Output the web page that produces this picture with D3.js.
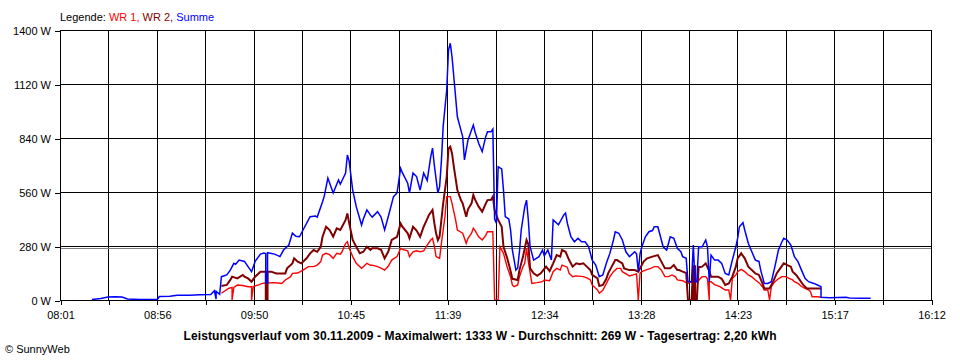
<!DOCTYPE html>
<html><head><meta charset="utf-8">
<script src="https://cdn.jsdelivr.net/npm/d3@7"></script>
<style>
body{margin:0;background:#fff}
svg{display:block;font-family:"Liberation Sans",Arial,sans-serif}
</style>
</head><body><svg id="c" width="960" height="360"></svg>
<script>
// ---------------- data ----------------
const xTickLabels = ["08:01","08:56","09:50","10:45","11:39","12:34","13:28","14:23","15:17","16:12"];
const yTicks = [0, 280, 560, 840, 1120, 1400];
const averageW = 269;
const legendLabel = "Legende: ";
const seriesNames = ["WR 1", "WR 2", "Summe"];
const seriesColors = ["#ff0000", "#800000", "#0000ff"];
const titleText = "Leistungsverlauf vom 30.11.2009 - Maximalwert: 1333 W - Durchschnitt: 269 W - Tagesertrag: 2,20 kWh";
const footerText = "\u00A9 SunnyWeb";

const wr1 = [["09:32",35],["09:36",60],["09:38",65],["09:38",0],["09:39",65],["09:41",78],["09:44",75],["09:47",69],["09:49",69],["09:49",0],["09:50",70],["09:53",78],["09:55",86],["09:58",88],["10:01",90],["10:04",88],["10:06",86],["10:08",104],["10:11",121],["10:12",138],["10:15",140],["10:18",155],["10:21",173],["10:24",173],["10:26",181],["10:28",199],["10:29",233],["10:31",242],["10:33",235],["10:35",216],["10:37",242],["10:39",238],["10:40",250],["10:42",294],["10:43",302],["10:44",270],["10:46",225],["10:48",190],["10:51",164],["10:52",173],["10:54",190],["10:56",180],["10:57",181],["11:00",173],["11:02",165],["11:04",155],["11:06",175],["11:08",207],["11:11",225],["11:13",268],["11:14",262],["11:17",255],["11:18",225],["11:20",250],["11:22",255],["11:24",250],["11:26",255],["11:28",285],["11:30",311],["11:31",320],["11:32",280],["11:33",225],["11:35",216],["11:36",294],["11:38",432],["11:39",536],["11:41",536],["11:42",501],["11:44",415],["11:45",363],["11:48",346],["11:50",294],["11:51",320],["11:53",346],["11:54",372],["11:55",360],["11:57",328],["11:59",311],["12:01",335],["12:02",354],["12:05",354],["12:06",0],["12:08",0],["12:09",276],["12:11",242],["12:13",173],["12:15",121],["12:16",78],["12:17",69],["12:19",78],["12:20",121],["12:22",173],["12:23",190],["12:24",268],["12:25",200],["12:27",86],["12:30",90],["12:33",95],["12:34",104],["12:37",100],["12:39",147],["12:41",164],["12:43",155],["12:44",181],["12:47",170],["12:48",138],["12:50",121],["12:52",125],["12:56",121],["12:58",115],["13:00",104],["13:01",78],["13:04",52],["13:05",35],["13:07",50],["13:09",86],["13:11",121],["13:13",147],["13:15",164],["13:17",164],["13:18",147],["13:21",130],["13:22",125],["13:24",130],["13:26",135],["13:27",0],["13:28",140],["13:29",147],["13:31",155],["13:34",164],["13:36",173],["13:38",173],["13:40",155],["13:42",121],["13:44",121],["13:46",130],["13:48",120],["13:49",104],["13:52",100],["13:53",95],["13:55",86],["13:57",95],["13:59",95],["14:01",100],["14:02",112],["14:03",121],["14:05",121],["14:06",110],["14:07",0],["14:07",95],["14:08",95],["14:10",80],["14:13",69],["14:16",52],["14:18",52],["14:19",0],["14:20",112],["14:22",130],["14:23",147],["14:25",159],["14:27",147],["14:29",130],["14:31",120],["14:33",104],["14:35",90],["14:37",69],["14:38",52],["14:40",52],["14:41",0],["14:42",69],["14:44",95],["14:46",110],["14:48",121],["14:50",121],["14:52",112],["14:54",104],["14:55",95],["14:57",86],["14:59",70],["15:01",60],["15:03",52],["15:04",45],["15:05",17],["15:08",17],["15:10",14]];

const wr2 = [["09:32",73],["09:35",78],["09:37",104],["09:38",121],["09:41",112],["09:44",130],["09:45",121],["09:47",112],["09:49",95],["09:51",121],["09:54",147],["09:56",147],["09:57",147],["09:57",0],["09:58",0],["09:58",147],["10:00",147],["10:03",138],["10:06",138],["10:08",138],["10:09",164],["10:12",190],["10:13",216],["10:15",199],["10:17",190],["10:20",216],["10:22",242],["10:24",259],["10:26",250],["10:28",276],["10:29",328],["10:31",380],["10:33",363],["10:35",328],["10:37",372],["10:39",363],["10:40",380],["10:42",415],["10:43",449],["10:44",400],["10:46",311],["10:48",276],["10:50",242],["10:52",250],["10:54",276],["10:56",260],["10:57",268],["11:00",268],["11:02",260],["11:04",216],["11:06",250],["11:08",311],["11:11",328],["11:13",397],["11:14",380],["11:17",346],["11:18",320],["11:20",380],["11:22",360],["11:24",328],["11:26",380],["11:27",400],["11:29",441],["11:31",467],["11:32",400],["11:33",346],["11:34",311],["11:35",330],["11:37",501],["11:39",639],["11:40",786],["11:41",795],["11:42",760],["11:43",691],["11:45",570],["11:47",518],["11:48",501],["11:50",432],["11:51",470],["11:53",501],["11:54",544],["11:55",520],["11:57",484],["11:59",458],["12:01",500],["12:02",518],["12:04",520],["12:05",536],["12:06",467],["12:08",415],["12:10",380],["12:11",276],["12:13",220],["12:15",150],["12:16",110],["12:19",104],["12:20",155],["12:22",225],["12:24",311],["12:25",290],["12:26",164],["12:28",138],["12:30",125],["12:32",138],["12:33",150],["12:35",173],["12:37",150],["12:39",190],["12:41",233],["12:43",225],["12:44",259],["12:46",250],["12:48",207],["12:50",173],["12:52",190],["12:54",185],["12:56",190],["12:58",173],["13:00",155],["13:01",130],["13:04",112],["13:05",73],["13:07",78],["13:09",110],["13:10",138],["13:12",173],["13:14",207],["13:15",207],["13:18",190],["13:19",164],["13:22",155],["13:25",155],["13:27",147],["13:30",199],["13:32",216],["13:35",225],["13:38",233],["13:40",199],["13:42",164],["13:45",164],["13:47",181],["13:49",155],["13:50",155],["13:52",147],["13:54",140],["13:55",0],["13:57",0],["13:58",180],["13:58",0],["13:59",180],["13:59",0],["14:00",0],["14:01",170],["14:03",173],["14:05",190],["14:07",150],["14:08",121],["14:10",121],["14:12",121],["14:14",110],["14:16",78],["14:18",86],["14:20",121],["14:22",173],["14:23",216],["14:25",242],["14:27",216],["14:29",173],["14:31",155],["14:33",138],["14:35",130],["14:37",86],["14:38",60],["14:41",60],["14:43",95],["14:45",138],["14:47",164],["14:49",190],["14:51",181],["14:53",173],["14:54",147],["14:56",130],["14:58",104],["15:00",78],["15:02",60],["15:05",60],["15:08",60],["15:10",60]];

const summe = [["08:19",3],["08:24",8],["08:28",15],["08:32",17],["08:36",15],["08:39",5],["08:46",3],["08:56",4],["08:57",18],["09:03",20],["09:07",24],["09:14",25],["09:20",27],["09:26",28],["09:28",48],["09:29",5],["09:29",45],["09:31",30],["09:32",121],["09:35",130],["09:37",155],["09:39",190],["09:40",185],["09:42",207],["09:45",200],["09:47",173],["09:49",147],["09:51",200],["09:54",238],["09:56",243],["09:57",240],["09:57",88],["09:58",88],["09:58",245],["10:02",238],["10:05",225],["10:07",259],["10:10",285],["10:12",347],["10:14",330],["10:16",328],["10:18",363],["10:22",432],["10:25",435],["10:26",430],["10:29",510],["10:30",540],["10:32",632],["10:34",581],["10:35",555],["10:38",622],["10:39",600],["10:42",658],["10:43",752],["10:44",720],["10:46",570],["10:48",484],["10:51",389],["10:52",420],["10:54",467],["10:56",440],["10:57",430],["11:00",458],["11:02",430],["11:04",363],["11:06",430],["11:09",536],["11:11",555],["11:13",683],["11:14",660],["11:17",606],["11:18",555],["11:20",658],["11:22",640],["11:24",570],["11:26",658],["11:28",620],["11:30",743],["11:31",788],["11:32",700],["11:34",555],["11:35",588],["11:36",720],["11:37",900],["11:39",1089],["11:40",1296],["11:41",1331],["11:42",1260],["11:44",1054],["11:45",950],["11:47",881],["11:48",847],["11:49",726],["11:51",830],["11:52",855],["11:54",907],["11:55",870],["11:57",813],["11:59",769],["12:01",847],["12:02",873],["12:04",873],["12:05",886],["12:06",420],["12:07",398],["12:08",691],["12:10",680],["12:11",570],["12:12",432],["12:14",420],["12:15",363],["12:16",260],["12:18",155],["12:19",166],["12:20",250],["12:21",363],["12:23",484],["12:24",518],["12:25",415],["12:26",276],["12:28",207],["12:31",225],["12:33",259],["12:34",230],["12:36",259],["12:38",207],["12:39",415],["12:42",390],["12:45",441],["12:46",451],["12:47",398],["12:49",328],["12:51",302],["12:53",320],["12:55",302],["12:57",302],["12:59",276],["13:01",207],["13:03",181],["13:05",121],["13:07",130],["13:09",190],["13:11",243],["13:13",311],["13:14",354],["13:16",346],["13:18",311],["13:20",250],["13:22",225],["13:25",250],["13:26",240],["13:27",147],["13:28",240],["13:29",276],["13:31",328],["13:33",354],["13:35",360],["13:36",380],["13:38",380],["13:39",346],["13:41",276],["13:43",259],["13:45",328],["13:47",320],["13:49",268],["13:51",250],["13:52",225],["13:54",216],["13:55",95],["13:57",95],["13:58",285],["13:59",95],["14:00",95],["14:01",276],["14:03",276],["14:05",311],["14:06",276],["14:07",95],["14:08",233],["14:10",207],["14:12",207],["14:14",190],["14:16",138],["14:18",130],["14:20",207],["14:22",276],["14:23",320],["14:24",380],["14:26",401],["14:27",363],["14:29",294],["14:31",250],["14:33",207],["14:35",200],["14:36",155],["14:38",86],["14:40",86],["14:42",95],["14:44",173],["14:46",259],["14:48",302],["14:49",320],["14:51",310],["14:53",285],["14:55",225],["14:57",199],["14:59",155],["15:01",112],["15:03",95],["15:06",86],["15:08",78],["15:10",69],["15:10",14],["15:15",12],["15:24",14],["15:26",10],["15:32",9],["15:38",9]];

// ---------------- drawing ----------------
const toMin = s => { const [h, m] = s.split(":").map(Number); return h * 60 + m; };
const svg = d3.select("#c");
svg.append("rect").attr("width", 960).attr("height", 360).attr("fill", "#fff");

const M = { left: 60, right: 931, top: 30, bottom: 300 };
const t0 = toMin(xTickLabels[0]), t1 = toMin(xTickLabels[xTickLabels.length - 1]);
const x = d3.scaleLinear().domain([t0, t1]).range([M.left, M.right]);
const y = d3.scaleLinear().domain([0, d3.max(yTicks)]).range([M.bottom, M.top]);

// grid tick positions: each labelled interval split in two
const nSub = (xTickLabels.length - 1) * 2;
const gridT = d3.range(nSub + 1).map(i => t0 + i * (t1 - t0) / nSub);
const px = v => Math.round(v) + 0.5;

const grid = svg.append("g").attr("stroke", "#000").attr("stroke-width", 1).attr("shape-rendering", "crispEdges");
grid.selectAll("line.h").data(yTicks).join("line").attr("class", "h")
  .attr("x1", M.left).attr("x2", M.right + 0.5).attr("y1", d => px(y(d))).attr("y2", d => px(y(d)));
grid.selectAll("line.v").data(gridT).join("line").attr("class", "v")
  .attr("x1", d => px(x(d))).attr("x2", d => px(x(d))).attr("y1", M.top).attr("y2", M.bottom);

// average line
svg.append("line").attr("x1", M.left).attr("x2", M.right).attr("y1", px(y(averageW))).attr("y2", px(y(averageW)))
  .attr("stroke", "#808080").attr("stroke-width", 1).attr("shape-rendering", "crispEdges");

// series
const line = d3.line().x(d => x(toMin(d[0]))).y(d => y(d[1])).curve(d3.curveLinear);
const series = [wr1, wr2, summe];
const widths = [1.4, 2, 1.5];
series.forEach((s, i) => {
  svg.append("path").datum(s).attr("d", line).attr("fill", "none")
    .attr("stroke", seriesColors[i]).attr("stroke-width", widths[i]).attr("stroke-linejoin", "miter");
});

// axes (drawn on top)
const xAxis = d3.axisBottom(x).tickValues(gridT).tickSize(5).tickPadding(6)
  .tickFormat((d, i) => i % 2 === 0 ? xTickLabels[i / 2] : "");
const gx = svg.append("g").attr("transform", `translate(0.5,${M.bottom})`).call(xAxis);
gx.select(".domain").remove();
gx.selectAll(".tick line").attr("shape-rendering", "crispEdges").attr("stroke", "#000");
gx.selectAll(".tick text").attr("font-size", 11).attr("font-family", "Liberation Sans, Arial, sans-serif").attr("fill", "#000");

const yAxis = d3.axisLeft(y).tickValues(yTicks).tickSize(5).tickPadding(4).tickFormat(d => d + " W");
const gy = svg.append("g").attr("transform", `translate(${M.left},0.5)`).call(yAxis);
gy.select(".domain").remove();
gy.selectAll(".tick line").attr("shape-rendering", "crispEdges").attr("stroke", "#000");
gy.selectAll(".tick text").attr("font-size", 11).attr("font-family", "Liberation Sans, Arial, sans-serif").attr("fill", "#000");

svg.append("line").attr("x1", M.left + 0.5).attr("x2", M.left + 0.5).attr("y1", M.top).attr("y2", M.bottom + 0.5)
  .attr("stroke", "#000").attr("shape-rendering", "crispEdges");
svg.append("line").attr("x1", M.left).attr("x2", M.right + 1).attr("y1", M.bottom + 0.5).attr("y2", M.bottom + 0.5)
  .attr("stroke", "#000").attr("shape-rendering", "crispEdges");

// legend
const leg = svg.append("text").attr("x", M.left).attr("y", 21).attr("font-size", 11);
leg.append("tspan").attr("fill", "#000").text(legendLabel);
seriesNames.forEach((n, i) => {
  leg.append("tspan").attr("fill", seriesColors[i]).text(n + (i < seriesNames.length - 1 ? ", " : ""));
});

// title and footer
svg.append("text").attr("x", 480).attr("y", 340).attr("text-anchor", "middle")
  .attr("font-size", 12).attr("font-weight", "bold").attr("fill", "#000")
  .attr("textLength", 593).attr("lengthAdjust", "spacing").text(titleText);
svg.append("text").attr("x", 5).attr("y", 353).attr("font-size", 11).attr("fill", "#000").text(footerText);
</script>
</body></html>
